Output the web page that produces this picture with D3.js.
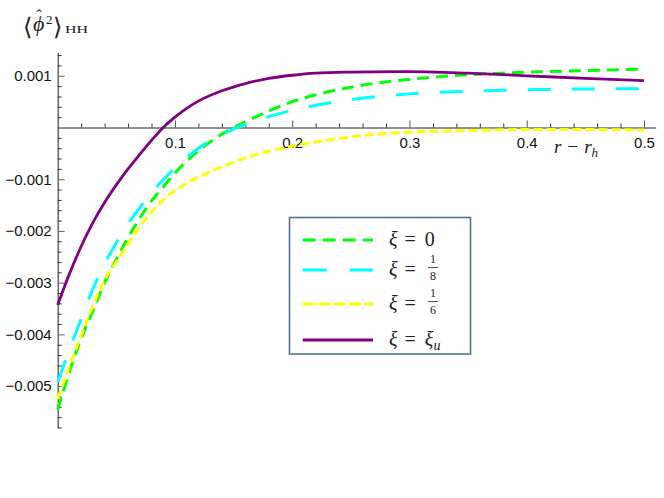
<!DOCTYPE html>
<html>
<head>
<meta charset="utf-8">
<script src="https://cdn.jsdelivr.net/npm/d3@7"></script>
<style>
  body { margin: 0; background: #fff; }
  .axis text { font-family: "Liberation Sans", Arial, sans-serif; font-size: 15px; fill: #111; }
</style>
</head>
<body>
<div class="chart"></div>
<script>
// r - r_h sample points
const rVals = [0, 0.01, 0.02, 0.03, 0.04, 0.05, 0.06, 0.07, 0.08, 0.09, 0.10, 0.11, 0.12, 0.14, 0.16, 0.18, 0.20, 0.22, 0.25, 0.30, 0.35, 0.40, 0.45, 0.50];

// <phi^2>_HH for each coupling
const xi0   = [-0.00545, -0.00472, -0.00408, -0.00355, -0.00300, -0.00255, -0.00213, -0.00175, -0.00142, -0.00115, -0.00088, -0.00065, -0.00045, -0.00013, 0.00011, 0.00032, 0.00050, 0.00063, 0.00078, 0.00093, 0.00102, 0.00107, 0.00110, 0.00113];
const xi1_8 = [-0.00492, -0.00430, -0.00370, -0.00312, -0.00263, -0.00223, -0.00186, -0.00155, -0.00126, -0.00101, -0.00078, -0.00058, -0.00040, -0.00014, 0.00006, 0.00021, 0.00033, 0.00043, 0.00054, 0.00065, 0.00070, 0.00073, 0.000745, 0.00075];
const xi1_6 = [-0.00525, -0.00462, -0.00402, -0.00345, -0.00295, -0.00260, -0.00225, -0.00192, -0.00163, -0.00140, -0.00122, -0.00108, -0.00096, -0.00076, -0.00059, -0.00046, -0.00036, -0.00028, -0.00018, -0.00009, -0.00006, -0.00004, -0.00004, -0.00005];
const xiU   = [-0.00343, -0.00283, -0.00230, -0.00184, -0.00145, -0.00111, -0.00080, -0.00052, -0.00025, 0.00000, 0.00020, 0.00037, 0.00051, 0.00071, 0.00085, 0.00095, 0.00101, 0.00105, 0.00107, 0.00108, 0.00105, 0.00100, 0.00095, 0.000905];

const xMajor = [0.1, 0.2, 0.3, 0.4, 0.5];
const yMajor = [-0.005, -0.004, -0.003, -0.002, -0.001, 0.001];

const series = [
  { name: "0",    vals: xi0,   color: "#00ff00", dash: "12,7", width: 3 },
  { name: "1/8",  vals: xi1_8, color: "#00ffff", dash: "23,21", width: 3 },
  { name: "1/6",  vals: xi1_6, color: "#ffff00", dash: "9,4", width: 3 },
  { name: "u",    vals: xiU,   color: "#800080", dash: null, width: 2.8 }
];

const w = 664;
const h = 498;

const svg = d3.select(".chart")
              .append("svg")
              .attr("width", w)
              .attr("height", h)
              .style("display", "block");

svg.append("rect").attr("width", w).attr("height", h).attr("fill", "#fff");

const xScale = d3.scaleLinear().domain([0, 0.51]).range([57.7, 655.7]);
const yScale = d3.scaleLinear().domain([-0.0058, 0.00145]).range([427.5, 52.5]);

// minor ticks
const xMinor = d3.range(0.02, 0.51, 0.02).filter(v => Math.abs(v * 10 - Math.round(v * 10)) > 1e-6);
const yMinor = d3.range(-0.0058, 0.00145, 0.0002).filter(v => Math.abs(v * 1000 - Math.round(v * 1000)) > 1e-6);

const x0 = yScale(0);
const y0 = xScale(0);

svg.append("g")
   .attr("class", "axis")
   .attr("transform", "translate(0," + x0 + ")")
   .call(d3.axisBottom(xScale).tickValues(xMinor).tickSizeInner(-4).tickSizeOuter(0).tickFormat(""))
   .call(g => g.select(".domain").attr("stroke", "#222"))
   .call(g => g.selectAll(".tick line").attr("stroke", "#333"));

svg.append("g")
   .attr("class", "axis")
   .attr("transform", "translate(0," + x0 + ")")
   .call(d3.axisBottom(xScale).tickValues(xMajor).tickSizeInner(-7).tickSizeOuter(0).tickPadding(10).tickFormat(d3.format(".1f")))
   .call(g => g.select(".domain").remove())
   .call(g => g.selectAll(".tick line").attr("stroke", "#555"));

svg.append("g")
   .attr("class", "axis")
   .attr("transform", "translate(" + y0 + ",0)")
   .call(d3.axisLeft(yScale).tickValues(yMinor).tickSizeInner(-4).tickSizeOuter(0).tickFormat(""))
   .call(g => g.select(".domain").attr("stroke", "#222"))
   .call(g => g.selectAll(".tick line").attr("stroke", "#333"));

svg.append("g")
   .attr("class", "axis")
   .attr("transform", "translate(" + y0 + ",0)")
   .call(d3.axisLeft(yScale).tickValues(yMajor).tickSizeInner(-7).tickSizeOuter(0).tickPadding(6).tickFormat(d => d3.format(".3f")(d).replace("-", "\u2212")))
   .call(g => g.select(".domain").remove())
   .call(g => g.selectAll(".tick line").attr("stroke", "#666"));

// curves
const line = d3.line()
               .x((d, i) => xScale(rVals[i]))
               .y(d => yScale(d))
               .curve(d3.curveMonotoneX);

svg.selectAll("path.curve")
   .data(series)
   .enter()
   .append("path")
   .attr("class", "curve")
   .attr("d", d => line(d.vals))
   .attr("fill", "none")
   .attr("stroke", d => d.color)
   .attr("stroke-width", d => d.width)
   .attr("stroke-dasharray", d => d.dash);

// axis labels
const serif = "'Liberation Serif', 'DejaVu Serif', serif";
const lab = svg.append("g").attr("font-family", serif).attr("fill", "#222");
lab.append("text").attr("x", 23).attr("y", 35).attr("font-size", 24).attr("font-family", "'DejaVu Serif', serif").text("\u27E8");
lab.append("text").attr("x", 33).attr("y", 31).attr("font-size", 22).attr("font-style", "italic").text("\u03D5");
lab.append("text").attr("x", 36.5).attr("y", 21).attr("font-size", 16).text("\u02C6");
lab.append("text").attr("x", 46).attr("y", 24).attr("font-size", 13).text("2");
lab.append("text").attr("x", 53).attr("y", 35).attr("font-size", 24).attr("font-family", "'DejaVu Serif', serif").text("\u27E9");
lab.append("text").attr("x", 65).attr("y", 32.5).attr("font-size", 11).attr("textLength", 23).attr("lengthAdjust", "spacingAndGlyphs").text("HH");

const xLab = svg.append("text")
                .attr("x", 554)
                .attr("y", 153)
                .attr("font-family", serif)
                .attr("font-size", 19)
                .attr("fill", "#222");
xLab.append("tspan").attr("font-style", "italic").text("r");
xLab.append("tspan").attr("dx", 6).text("\u2212");
xLab.append("tspan").attr("dx", 6).attr("font-style", "italic").text("r");
xLab.append("tspan").attr("font-size", 13).attr("dy", 4).attr("font-style", "italic").text("h");

// legend
const legend = svg.append("g");
legend.append("rect")
      .attr("x", 289.5)
      .attr("y", 217.5)
      .attr("width", 181)
      .attr("height", 136.5)
      .attr("fill", "#fff")
      .attr("stroke", "#56708f")
      .attr("stroke-width", 1.6);

const legY = [240, 270, 304, 340];
const legDash = ["13,7", "24,23", "12,3.5", null];

series.forEach((s, i) => {
  legend.append("line")
        .attr("x1", 302.7).attr("x2", 373)
        .attr("y1", legY[i]).attr("y2", legY[i])
        .attr("stroke", s.color)
        .attr("stroke-width", s.width)
        .attr("stroke-dasharray", legDash[i]);

  const t = legend.append("text")
                  .attr("x", 389)
                  .attr("y", legY[i] + 6)
                  .attr("font-family", serif)
                  .attr("font-size", 20)
                  .attr("fill", "#222");
  t.append("tspan").attr("font-style", "italic").text("\u03BE");
  t.append("tspan").attr("dx", 7).text("=");
  if (s.name === "0") {
    t.append("tspan").attr("dx", 9).text("0");
  } else if (s.name === "u") {
    t.append("tspan").attr("dx", 9).attr("font-style", "italic").text("\u03BE");
    t.append("tspan").attr("font-size", 14).attr("dy", 4).attr("font-style", "italic").text("u");
  } else {
    const parts = s.name.split("/");
    const fx = 433;
    legend.append("text")
          .attr("x", fx).attr("y", legY[i] - 7)
          .attr("text-anchor", "middle")
          .attr("font-family", serif).attr("font-size", 12).attr("fill", "#222")
          .text(parts[0]);
    legend.append("line")
          .attr("x1", fx - 5).attr("x2", fx + 5)
          .attr("y1", legY[i] - 2.5).attr("y2", legY[i] - 2.5)
          .attr("stroke", "#222").attr("stroke-width", 0.8);
    legend.append("text")
          .attr("x", fx).attr("y", legY[i] + 10)
          .attr("text-anchor", "middle")
          .attr("font-family", serif).attr("font-size", 12).attr("fill", "#222")
          .text(parts[1]);
  }
});
</script>
</body>
</html>
